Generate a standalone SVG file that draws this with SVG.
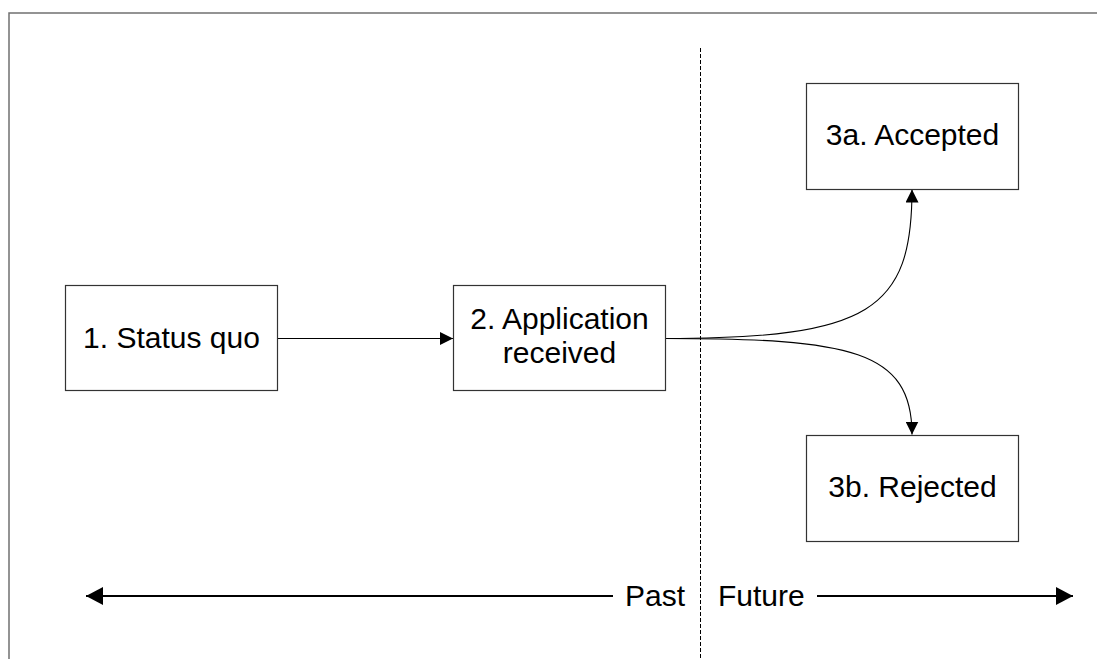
<svg xmlns="http://www.w3.org/2000/svg" width="1097" height="659" viewBox="0 0 1097 659">
  <style>
    .box { fill: #ffffff; stroke: #333333; stroke-width: 1.2; }
    .lbl { font-family: "Liberation Sans", Arial, sans-serif; font-size: 30px; fill: #000000; }
    .mid { text-anchor: middle; }
    .conn { fill: none; stroke: #000000; stroke-width: 1.1; }
    .axis { fill: none; stroke: #000000; stroke-width: 2; }
    .frame { fill: none; stroke: #707070; stroke-width: 1.5; }
    .divider { fill: none; stroke: #000000; stroke-width: 1; stroke-dasharray: 4 2; }
  </style>
  <defs>
    <marker id="arrowSmall" markerUnits="userSpaceOnUse" viewBox="0 0 13 13" markerWidth="13" markerHeight="13" refX="13" refY="6.5" orient="auto">
      <path d="M0,0 L13,6.5 L0,13 z" fill="#000000"/>
    </marker>
    <marker id="arrowLarge" markerUnits="userSpaceOnUse" viewBox="0 0 17 18" markerWidth="17" markerHeight="18" refX="17" refY="9" orient="auto">
      <path d="M0,0 L17,9 L0,18 z" fill="#000000"/>
    </marker>
  </defs>

  <rect width="1097" height="659" fill="#ffffff"/>
  <path class="frame" d="M9,659 V13 H1097"/>

  <line id="divider" class="divider" x1="700.5" y1="48" x2="700.5" y2="659"/>

  <g id="connectors">
    <line class="conn" x1="277" y1="338.5" x2="453" y2="338.5" marker-end="url(#arrowSmall)"/>
    <path class="conn" d="M665,338.5 C870,338.5 912,310 912,189.5" marker-end="url(#arrowSmall)"/>
    <path class="conn" d="M665,338.5 C850,338.5 912,350 912,434.5" marker-end="url(#arrowSmall)"/>
  </g>

  <g id="node-status-quo">
    <rect class="box" x="65.5" y="285.5" width="212" height="105"/>
    <text class="lbl mid" x="171.5" y="348">1. Status quo</text>
  </g>

  <g id="node-application">
    <rect class="box" x="453.5" y="285.5" width="212" height="105"/>
    <text class="lbl mid" x="559.5" y="329">2. Application</text>
    <text class="lbl mid" x="559.5" y="363">received</text>
  </g>

  <g id="node-accepted">
    <rect class="box" x="806.5" y="83.5" width="212" height="106"/>
    <text class="lbl mid" x="912.5" y="145">3a. Accepted</text>
  </g>

  <g id="node-rejected">
    <rect class="box" x="806.5" y="435.5" width="212" height="106"/>
    <text class="lbl mid" x="912.5" y="497">3b. Rejected</text>
  </g>

  <g id="timeline">
    <line class="axis" x1="613" y1="596" x2="86" y2="596" marker-end="url(#arrowLarge)"/>
    <text class="lbl" x="685" y="606" text-anchor="end">Past</text>
    <text class="lbl" x="718" y="606">Future</text>
    <line class="axis" x1="817" y1="596" x2="1073" y2="596" marker-end="url(#arrowLarge)"/>
  </g>
</svg>
